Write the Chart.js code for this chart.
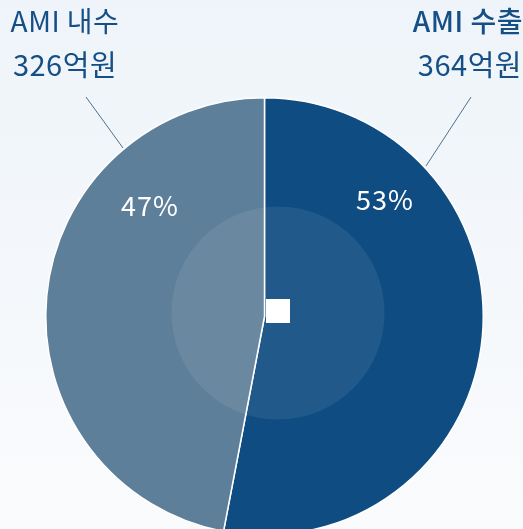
<!DOCTYPE html>
<html>
<head>
<meta charset="utf-8">
<script src="https://cdn.jsdelivr.net/npm/chart.js@4"></script>
<style>
  html, body { margin: 0; padding: 0; width: 523px; height: 529px; overflow: hidden;
    background: linear-gradient(#eef4f9, #fafbfd); }
  #wrap { position: relative; width: 523px; height: 540px; }
</style>
</head>
<body>
<div id="wrap"><canvas id="amiChart"></canvas></div>
<script>
// 데이터
const categories = ['AMI 수출', 'AMI 내수'];
const amounts = [364, 326];            // 억원
const shares = [53, 47];               // %
const sliceColors = ['#0f4c81', '#5e7f99'];

const FONT = '"Noto Sans CJK KR", "Noto Sans", sans-serif';

// 라벨, 지시선, 가운데 원 그리기
const labelPlugin = {
  id: 'amiLabels',
  afterDatasetsDraw(chart) {
    const ctx = chart.ctx;
    const arc = chart.getDatasetMeta(0).data[0];
    const cx = arc.x, cy = arc.y, r = arc.outerRadius;

    // 가운데 밝은 원
    ctx.save();
    ctx.fillStyle = 'rgba(255,255,255,0.08)';
    ctx.beginPath();
    ctx.arc(cx + 13.5, cy - 3.5, r * 0.487, 0, Math.PI * 2);
    ctx.fill();
    ctx.fillStyle = '#ffffff';
    ctx.fillRect(cx + 1.5, cy - 17.5, 24, 24);
    ctx.restore();

    // 퍼센트
    const pctPos = [[120.5, -116.5], [-114.5, -110.5]];
    ctx.save();
    ctx.fillStyle = '#ffffff';
    ctx.font = '400 27px ' + FONT;
    ctx.letterSpacing = '1px';
    ctx.textAlign = 'center';
    ctx.textBaseline = 'middle';
    shares.forEach((p, i) => {
      ctx.fillText(p + '%', cx + pctPos[i][0], cy + pctPos[i][1]);
    });
    ctx.restore();

    // 지시선
    ctx.save();
    ctx.strokeStyle = '#4d6f8f';
    ctx.lineWidth = 1;
    ctx.beginPath();
    ctx.moveTo(471, 97);
    ctx.lineTo(426, 166);
    ctx.moveTo(86, 97);
    ctx.lineTo(123, 148);
    ctx.stroke();
    ctx.restore();

    // 상단 라벨
    ctx.save();
    ctx.fillStyle = '#154f86';
    ctx.textBaseline = 'alphabetic';
    ctx.letterSpacing = '0.5px';
    ctx.textAlign = 'right';
    ctx.font = '500 28px ' + FONT;
    ctx.fillText(categories[0], 523, 32);
    ctx.font = '400 29px ' + FONT;
    ctx.fillText(amounts[0] + '억원', 522, 76);
    ctx.textAlign = 'center';
    ctx.font = '400 28px ' + FONT;
    ctx.fillText(categories[1], 65, 32);
    ctx.font = '400 29px ' + FONT;
    ctx.fillText(amounts[1] + '억원', 65, 76);
    ctx.restore();
  }
};

const ctxAmi = document.getElementById('amiChart').getContext('2d');
new Chart(ctxAmi, {
  type: 'pie',
  data: {
    labels: categories,
    datasets: [{
      data: shares,
      backgroundColor: sliceColors,
      borderColor: '#ffffff',
      borderWidth: 1.5,
      hoverOffset: 0
    }]
  },
  options: {
    responsive: true,
    maintainAspectRatio: false,
    animation: false,
    events: [],
    layout: { padding: { top: 97, left: 45, right: 39, bottom: 4 } },
    plugins: {
      legend: { display: false },
      tooltip: { enabled: false }
    }
  },
  plugins: [labelPlugin]
});
</script>
</body>
</html>
